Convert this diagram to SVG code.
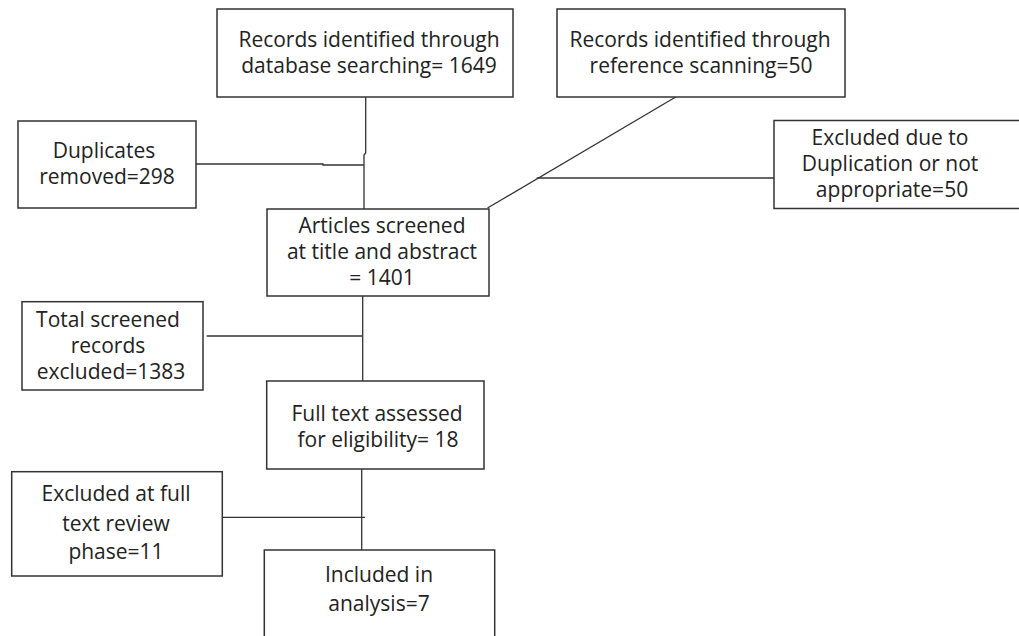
<svg xmlns="http://www.w3.org/2000/svg" width="1019" height="636" viewBox="0 0 1019 636">
<style>
.box{fill:#fff;stroke:#333;stroke-width:1.5}
.t{font-family:"Open Sans","Liberation Sans",sans-serif;font-size:21px;fill:#222;text-anchor:middle}
.c{fill:none;stroke:#333;stroke-width:1.3}
</style>
<rect width="1019" height="636" fill="#fff"/>
<g id="connectors">
<polyline class="c" points="365.7,97 365.7,153 364,155 364,209"/>
<polyline class="c" points="196,164 323,164 323,165 364,165"/>
<line class="c" x1="675.7" y1="97" x2="487.5" y2="208"/>
<line class="c" x1="536.7" y1="178" x2="774" y2="178"/>
<line class="c" x1="362.7" y1="296" x2="362.7" y2="381"/>
<line class="c" x1="206.7" y1="336" x2="362.7" y2="336"/>
<line class="c" x1="361.7" y1="469" x2="361.7" y2="550"/>
<line class="c" x1="222.3" y1="517.3" x2="365" y2="517.3"/>
</g>
<g id="n1"><rect class="box" x="217" y="9" width="296" height="88"/>
<text class="t" x="369" y="47">Records identified through</text>
<text class="t" x="369" y="73">database searching= 1649</text></g>
<g id="n2"><rect class="box" x="557" y="9" width="288" height="88"/>
<text class="t" x="700" y="47">Records identified through</text>
<text class="t" x="701" y="73">reference scanning=50</text></g>
<g id="n3"><rect class="box" x="18" y="121" width="178" height="87"/>
<text class="t" x="104" y="158">Duplicates</text>
<text class="t" x="107" y="184">removed=298</text></g>
<g id="n4"><rect class="box" x="774" y="120.5" width="260" height="88"/>
<text class="t" x="890" y="145">Excluded due to</text>
<text class="t" x="890" y="171">Duplication or not</text>
<text class="t" x="892" y="197">appropriate=50</text></g>
<g id="n5"><rect class="box" x="267" y="209" width="222" height="87"/>
<text class="t" x="382" y="233">Articles screened</text>
<text class="t" x="382" y="259">at title and abstract</text>
<text class="t" x="382" y="285">= 1401</text></g>
<g id="n6"><rect class="box" x="22" y="301.7" width="181" height="88.3"/>
<text class="t" x="108" y="326.5">Total screened</text>
<text class="t" x="108" y="353">records</text>
<text class="t" x="111" y="379">excluded=1383</text></g>
<g id="n7"><rect class="box" x="266.7" y="381" width="217.3" height="88"/>
<text class="t" x="377" y="420.5">Full text assessed</text>
<text class="t" x="378" y="446.5">for eligibility= 18</text></g>
<g id="n8"><rect class="box" x="11.7" y="471.7" width="210.6" height="104.3"/>
<text class="t" x="116" y="500.5">Excluded at full</text>
<text class="t" x="116" y="530.5">text review</text>
<text class="t" x="116" y="559">phase=11</text></g>
<g id="n9"><rect class="box" x="264.3" y="550" width="230.4" height="100"/>
<text class="t" x="379" y="581.5">Included in</text>
<text class="t" x="379" y="610.5">analysis=7</text></g>
</svg>
